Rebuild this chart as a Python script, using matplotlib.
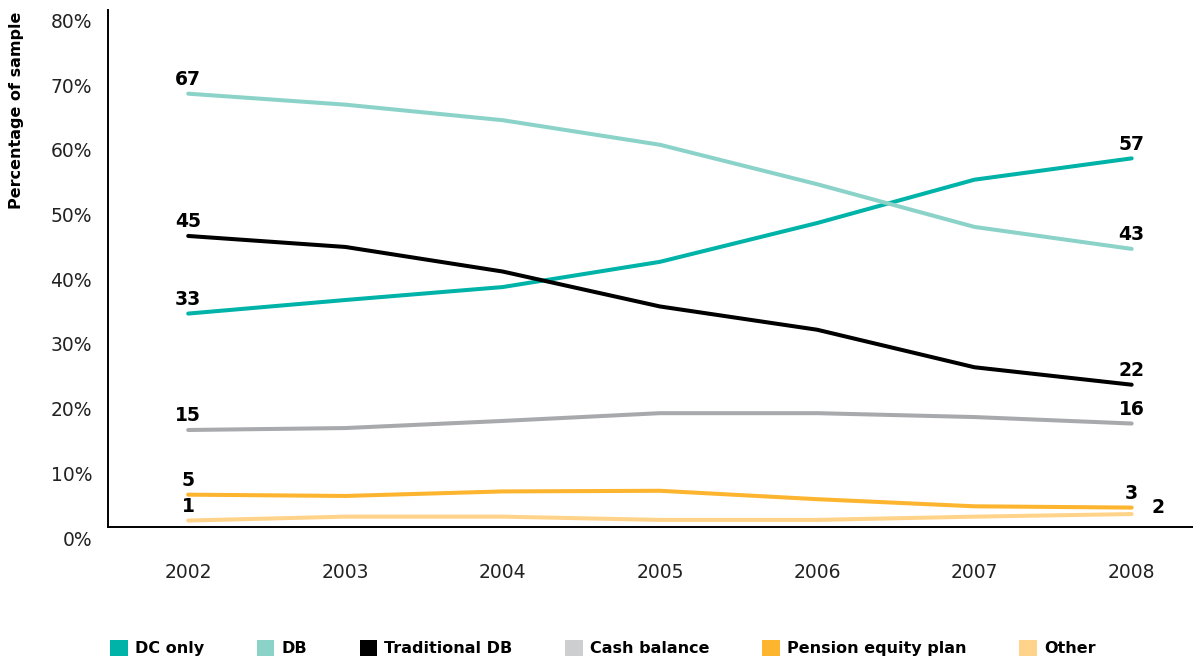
"""
Pension plan types offered, 2002-2008 (share of sample, %)
"""
import matplotlib
matplotlib.use('Agg')
import matplotlib.pyplot as plt
from matplotlib.patches import Patch
from matplotlib.transforms import ScaledTranslation

# %% data
years = [2002, 2003, 2004, 2005, 2006, 2007, 2008]
series_names = ['DC only', 'DB', 'Traditional DB', 'Cash balance',
                'Pension equity plan', 'Other']

dc_only = [33, 35.1, 37.1, 41.0, 47.0, 53.7, 57]
db = [67, 65.3, 62.9, 59.1, 53.0, 46.4, 43]
traditional_db = [45, 43.3, 39.5, 34.1, 30.5, 24.7, 22]
cash_balance = [15, 15.3, 16.4, 17.6, 17.6, 17.0, 16]
pension_equity = [5, 4.8, 5.5, 5.6, 4.3, 3.2, 3]
other = [1, 1.6, 1.6, 1.1, 1.1, 1.6, 2]

# numbers printed at the two ends of each line
start_labels = [33, 67, 45, 15, 5, 1]
end_labels = [57, 43, 22, 16, 3, 2]

colors = ['#00B3A8', '#8BD3C9', '#000000', '#A8A9AC', '#FDB42F', '#FFD38A']
legend_colors = ['#00B3A8', '#8BD3C9', '#000000', '#CDCED0', '#FDB42F', '#FFD38A']

all_series = [dc_only, db, traditional_db, cash_balance, pension_equity, other]

# %% figure
fig = plt.figure(figsize=(11.93, 6.62), dpi=100)
ax = fig.add_axes([108 / 1193, 135 / 662, 1 - 108 / 1193, 517.4 / 662])

for vals, c in zip(all_series, colors):
    ax.plot(years, vals, color=c, lw=2.9, solid_capstyle='round',
            solid_joinstyle='round')

for i, (vals, s, e) in enumerate(zip(all_series, start_labels, end_labels)):
    ax.annotate(str(s), (years[0], vals[0]), xytext=(0, 14),
                textcoords='offset pixels', ha='center', va='center',
                fontsize=13.5, fontweight='bold', color='black')
    # the "Other" end value sits beside its line, not above it
    dx, dy = (26, 7) if i == len(all_series) - 1 else (0, 14)
    ax.annotate(str(e), (years[-1], vals[-1]), xytext=(dx, dy),
                textcoords='offset pixels', ha='center', va='center',
                fontsize=13.5, fontweight='bold', color='black')

ax.set_xlim(2001.49, 2008.39)
ax.set_ylim(0, 80)
ax.set_xticks(years)
ax.set_yticks(range(0, 81, 10))
ax.set_yticklabels([f'{v}%' for v in range(0, 81, 10)])

for side in ['top', 'right']:
    ax.spines[side].set_visible(False)
for side in ['left', 'bottom']:
    ax.spines[side].set_linewidth(1.4)
    ax.spines[side].set_color('black')

ax.tick_params(axis='both', length=0, labelsize=13.5, colors='#222222')
ax.tick_params(axis='y', pad=11.5)
ax.tick_params(axis='x', pad=26)

# y tick labels sit a bit below their gridline positions
shift = ScaledTranslation(0, -0.11, fig.dpi_scale_trans)
for lbl in ax.get_yticklabels():
    lbl.set_transform(lbl.get_transform() + shift)

fig.text(17 / 1193, 1 - 110 / 662, 'Percentage of sample', rotation=90,
         ha='center', va='center', fontsize=11.5, fontweight='bold')

# %% legend
handles = [Patch(facecolor=c, edgecolor='none') for c in legend_colors]
fig.legend(handles, series_names, loc='center left',
           bbox_to_anchor=(110 / 1193, 14 / 662), ncol=6, frameon=False,
           borderpad=0, borderaxespad=0, handlelength=1.1, handleheight=1.15,
           handletextpad=0.45, columnspacing=3.3,
           prop={'family': 'DejaVu Sans', 'weight': 'bold', 'size': 11.5})

fig.savefig('out.png', dpi=100)
